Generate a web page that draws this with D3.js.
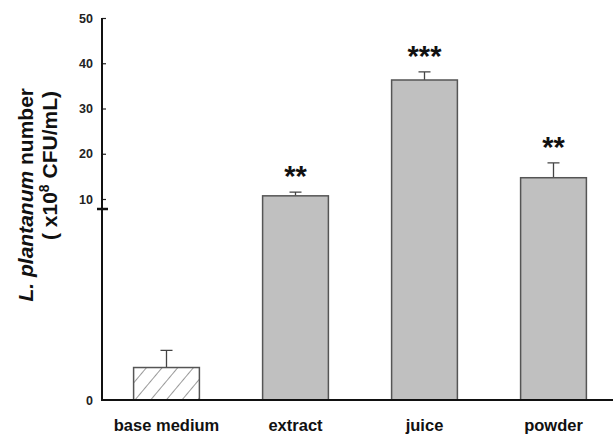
<html>
<head>
    <script src="https://d3js.org/d3.v7.min.js"></script>
    <style>
        body { margin: 0; background: #fff; }
        text { font-family: Arial, "Liberation Sans", sans-serif; }
    </style>
</head>
<body>
    <svg id="chart" width="614" height="437"></svg>
    <script>
        var categories = ['base medium', 'extract', 'juice', 'powder'];
        var means = [1.7, 10.7, 36.3, 14.7];
        var errTop = [2.6, 11.5, 38.1, 18.0];
        var stars = ['', '**', '***', '**'];
        var upperTicks = [10, 20, 30, 40, 50];
        var lowerTicks = [0];

        var svg = d3.select('#chart');

        // broken axis: 0-10 below the break, 10-50 above
        var yLow = d3.scaleLinear().domain([0, 10]).range([400, 209]);
        var yHigh = d3.scaleLinear().domain([10, 50]).range([199, 18]);
        function y(v) { return v <= 10 ? yLow(v) : yHigh(v); }

        var x = d3.scaleBand()
            .domain(categories)
            .range([102, 618])
            .paddingInner(0.49)
            .paddingOuter(0.245);

        var defs = svg.append('defs');
        var pat = defs.append('pattern')
            .attr('id', 'hatch')
            .attr('patternUnits', 'userSpaceOnUse')
            .attr('width', 12)
            .attr('height', 12)
            .attr('patternTransform', 'rotate(40)');
        pat.append('rect').attr('width', 12).attr('height', 12).attr('fill', '#fff');
        pat.append('line')
            .attr('x1', 0).attr('y1', 0).attr('x2', 0).attr('y2', 12)
            .attr('stroke', '#555').attr('stroke-width', 1.2);

        var data = categories.map(function(c, i) {
            return { name: c, mean: means[i], top: errTop[i], star: stars[i] };
        });

        // error bars
        svg.selectAll('.err')
            .data(data)
            .enter()
            .append('path')
            .attr('class', 'err')
            .attr('stroke', '#444')
            .attr('stroke-width', 1.3)
            .attr('fill', 'none')
            .attr('d', function(d) {
                var cx = x(d.name) + x.bandwidth() / 2;
                return 'M' + cx + ',' + y(d.mean) + 'V' + y(d.top) +
                    'M' + (cx - 6) + ',' + y(d.top) + 'H' + (cx + 6);
            });

        svg.selectAll('.bar')
            .data(data)
            .enter()
            .append('rect')
            .attr('class', 'bar')
            .attr('x', function(d) { return x(d.name); })
            .attr('width', x.bandwidth())
            .attr('y', function(d) { return y(d.mean); })
            .attr('height', function(d) { return y(0) - y(d.mean); })
            .attr('fill', function(d, i) { return i == 0 ? 'url(#hatch)' : '#c0c0c0'; })
            .attr('stroke', '#555')
            .attr('stroke-width', 1.5);

        svg.selectAll('.star')
            .data(data)
            .enter()
            .append('text')
            .attr('class', 'star')
            .attr('x', function(d) { return x(d.name) + x.bandwidth() / 2; })
            .attr('y', function(d) { return y(d.top) - 6; })
            .attr('text-anchor', 'middle')
            .attr('font-size', 29)
            .attr('font-weight', 'bold')
            .attr('fill', '#111')
            .text(function(d) { return d.star; });

        // y axis (two pieces)
        var axHigh = svg.append('g')
            .attr('transform', 'translate(102,0)')
            .call(d3.axisLeft(yHigh).tickValues(upperTicks).tickSize(-4).tickPadding(9));
        var axLow = svg.append('g')
            .attr('transform', 'translate(102,0)')
            .call(d3.axisLeft(yLow).tickValues(lowerTicks).tickSize(0).tickPadding(9));
        [axHigh, axLow].forEach(function(g) {
            g.select('.domain').remove();
            g.selectAll('.tick line').attr('stroke', '#222').attr('stroke-width', 1.2);
            g.selectAll('.tick text')
                .attr('font-size', 12.5)
                .attr('font-weight', 'bold')
                .attr('fill', '#222')
                .style('font-family', 'Arial, "Liberation Sans", sans-serif');
        });

        svg.append('line')
            .attr('x1', 102).attr('x2', 102)
            .attr('y1', yHigh(50)).attr('y2', yLow(0) + 1)
            .attr('stroke', '#111').attr('stroke-width', 2);
        // break mark
        svg.append('line')
            .attr('x1', 97).attr('x2', 108)
            .attr('y1', 209).attr('y2', 209)
            .attr('stroke', '#111').attr('stroke-width', 2.5);

        // x axis
        var axX = svg.append('g')
            .attr('transform', 'translate(0,400)')
            .call(d3.axisBottom(x).tickSize(0).tickPadding(19));
        axX.select('.domain')
            .attr('d', 'M101,0H613')
            .attr('stroke', '#111')
            .attr('stroke-width', 2);
        axX.selectAll('.tick text')
            .attr('font-size', 16.5)
            .attr('font-weight', 'bold')
            .attr('fill', '#111')
            .style('font-family', 'Arial, "Liberation Sans", sans-serif');

        // y label
        var lab = svg.append('g').attr('transform', 'translate(0,88) rotate(-90)');
        var t1 = lab.append('text')
            .attr('x', 0).attr('y', 33)
            .attr('text-anchor', 'end')
            .attr('font-size', 21)
            .attr('font-weight', 'bold')
            .attr('fill', '#111');
        t1.append('tspan').attr('font-style', 'italic').text('L. plantanum');
        t1.append('tspan').text(' number');
        var t2 = lab.append('text')
            .attr('x', -3).attr('y', 57)
            .attr('text-anchor', 'end')
            .attr('font-size', 21)
            .attr('font-weight', 'bold')
            .attr('fill', '#111');
        t2.append('tspan').text('( x10');
        t2.append('tspan').attr('dy', -8).attr('font-size', 14).text('8');
        t2.append('tspan').attr('dy', 8).text(' CFU/mL)');
    </script>
</body>
</html>
